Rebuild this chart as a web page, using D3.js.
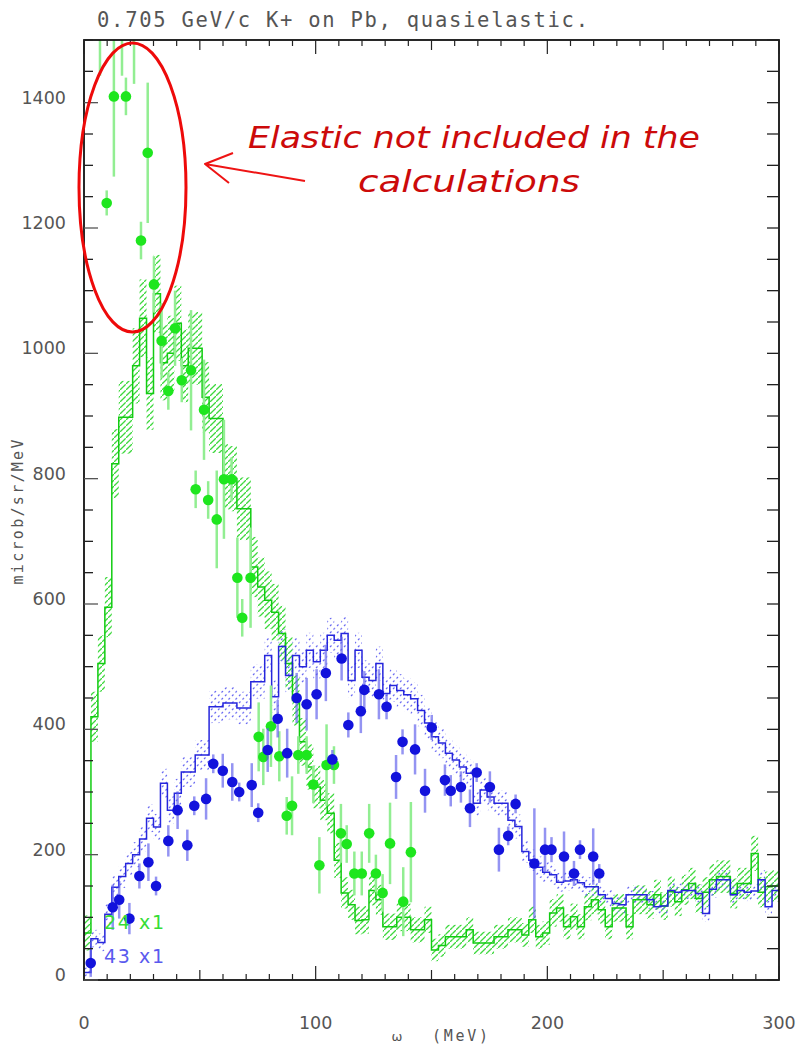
<!DOCTYPE html>
<html>
<head>
<meta charset="utf-8">
<script src="https://cdn.jsdelivr.net/npm/d3@7"></script>
<style>
  html, body { margin: 0; padding: 0; background: #fff; }
  svg { display: block; }
</style>
</head>
<body>
<svg id="chart" width="796" height="1045"></svg>
<script>
// ---------- data ----------
// calculation histograms: 3 MeV bins from 0 to 300 MeV
const binWidth = 3;
const greenCalc = [
  75, 420, 505, 595, 824, 898, 898, 980, 1056, 936,
  1095, 985, 1000, 1048, 980, 1008, 1008, 930, 896, 896,
  803, 800, 752, 752, 659, 627, 606, 587, 553, 505,
  446, 380, 340, 308, 287, 266, 191, 139, 120, 95,
  96, 143, 128, 85, 85, 100, 100, 80, 80, 96,
  48, 55, 69, 69, 69, 80, 59, 59, 59, 69,
  69, 80, 80, 72, 96, 69, 75, 107, 115, 85,
  101, 85, 117, 128, 112, 85, 115, 115, 85, 128,
  128, 120, 136, 118, 141, 125, 144, 154, 130, 140,
  160, 165, 165, 138, 154, 154, 202, 140, 149, 150
];
const greenCalcErr = [
  28, 40, 45, 48, 55, 58, 58, 60, 62, 58,
  62, 60, 60, 60, 58, 58, 58, 56, 55, 55,
  52, 52, 50, 50, 48, 47, 46, 45, 44, 42,
  40, 38, 36, 34, 32, 32, 28, 25, 24, 22,
  22, 24, 24, 21, 21, 22, 22, 20, 20, 21,
  18, 18, 19, 19, 19, 20, 18, 18, 18, 19,
  19, 20, 20, 19, 21, 19, 19, 22, 22, 20,
  21, 20, 22, 23, 22, 20, 22, 22, 20, 23,
  23, 22, 24, 22, 24, 23, 24, 25, 23, 24,
  25, 26, 26, 24, 25, 25, 28, 24, 24, 25
];
const blueCalc = [
  12, 66, 60, 105, 148, 165, 186, 200, 225, 258,
  244, 314, 271, 298, 332, 332, 359, 359, 436, 436,
  442, 442, 434, 434, 476, 476, 518, 452, 532, 486,
  518, 500, 526, 508, 526, 550, 542, 553, 478, 526,
  483, 478, 505, 457, 470, 462, 455, 449, 430, 410,
  388, 378, 362, 351, 340, 330, 282, 303, 292, 282,
  282, 255, 245, 205, 191, 180, 172, 168, 156, 158,
  160, 155, 149, 149, 136, 130, 122, 120, 136, 136,
  136, 128, 117, 118, 143, 140, 143, 143, 138, 106,
  145, 160, 160, 136, 143, 140, 142, 160, 117, 143
];
const blueCalcErr = [
  8, 14, 14, 16, 18, 18, 19, 20, 20, 22,
  21, 23, 22, 23, 24, 24, 24, 24, 26, 26,
  26, 26, 26, 26, 27, 27, 28, 26, 28, 27,
  28, 27, 28, 27, 28, 28, 28, 28, 27, 28,
  27, 27, 27, 26, 26, 26, 26, 26, 25, 25,
  24, 24, 23, 23, 22, 22, 20, 21, 21, 20,
  20, 19, 19, 18, 17, 17, 16, 16, 15, 15,
  15, 15, 15, 15, 14, 14, 14, 14, 14, 14,
  14, 14, 13, 13, 14, 14, 14, 14, 14, 13,
  14, 15, 15, 14, 14, 14, 14, 15, 13, 14
];

// measured cross sections, set 24 (green): omega [MeV], value, error
const greenOmega = [6.9, 9.8, 12.9, 16.4, 18.1, 21.6, 24.6, 27.5, 30.2, 33.5,
  36.4, 39.3, 42.2, 46.2, 48.2, 51.8, 53.6, 57.3, 60.4, 63.7,
  66.2, 68.3, 71.9, 75.4, 77.4, 80.7, 84.3, 87.5, 89.8, 92.5,
  96.1, 99.0, 101.6, 104.7, 107.9, 110.9, 113.4, 116.7, 119.9, 123.1,
  126.0, 128.9, 132.1, 137.8, 141.1];
const greenValue = [1620, 1240, 1410, 1590, 1410, 1570, 1180, 1320, 1110, 1020,
  940, 1040, 957, 973, 783, 910, 766, 735, 799, 799,
  642, 578, 642, 388, 356, 405, 357, 262, 278, 359,
  359, 312, 183, 343, 343, 234, 217, 170, 170, 234,
  170, 139, 218, 125, 204];
const greenError = [177, 20, 128, 147, 30, 140, 30, 112, 45, 60,
  30, 60, 35, 96, 30, 80, 30, 78, 95, 35,
  64, 30, 80, 55, 45, 65, 40, 30, 47, 30,
  30, 30, 45, 65, 30, 47, 30, 35, 35, 47,
  30, 30, 65, 55, 80];

// measured cross sections, set 43 (blue)
const blueOmega = [2.9, 12.4, 15.2, 19.6, 23.9, 27.8, 31.1, 36.4, 40.4, 44.6,
  47.6, 52.7, 55.8, 59.9, 64.0, 67.0, 72.4, 75.2, 79.3, 83.6,
  87.7, 91.8, 96.1, 100.4, 104.4, 107.2, 111.2, 114.1, 119.5, 121.0,
  127.3, 130.6, 134.7, 137.5, 142.9, 147.2, 150.1, 155.8, 158.3, 162.7,
  166.6, 169.5, 175.2, 179.1, 183.1, 186.3, 194.4, 199.0, 201.8, 207.2,
  211.5, 214.1, 219.8, 222.4];
const blueValue = [27, 116, 128, 98, 166, 188, 150, 222, 271, 215,
  278, 289, 345, 334, 316, 300, 311, 267, 367, 417,
  362, 450, 440, 456, 490, 352, 513, 407, 429, 463,
  456, 436, 324, 380, 368, 302, 403, 319, 302, 308,
  274, 331, 308, 208, 230, 281, 186, 208, 208, 197,
  170, 208, 197, 170];
const blueError = [22, 36, 30, 25, 20, 30, 15, 25, 30, 25,
  15, 33, 15, 27, 30, 15, 35, 15, 35, 30,
  39, 40, 42, 40, 45, 15, 35, 20, 35, 30,
  40, 20, 35, 20, 40, 35, 20, 25, 25, 25,
  30, 15, 25, 35, 15, 15, 88, 35, 20, 40,
  20, 15, 45, 15];

const xTickLabels = [0, 100, 200, 300];
const yTickLabels = [0, 200, 400, 600, 800, 1000, 1200, 1400];
const legendLabels = ["24 x1", "43 x1"];
const titleText = "0.705 GeV/c K+ on Pb, quasielastic.";
const yTitle = "microb/sr/MeV";
const noteLines = ["Elastic not included in the", "calculations"];

// ---------- layout ----------
const svg = d3.select("#chart");
const x = d3.scaleLinear().domain([0, 300]).range([84, 779]);
const y = d3.scaleLinear().domain([0, 1500]).range([980, 40]);

const defs = svg.append("defs");
defs.append("clipPath").attr("id", "plotClip")
  .append("rect").attr("x", 84).attr("y", 40).attr("width", 695).attr("height", 940);

// diagonal hatching for the green band
const hatch = defs.append("pattern").attr("id", "hatchGreen")
  .attr("patternUnits", "userSpaceOnUse").attr("width", 6).attr("height", 6);
hatch.append("path").attr("d", "M-1,7 L7,-1").attr("stroke", "#3fd83f").attr("stroke-width", 1.3);

// scattered dots for the blue band
const dots = defs.append("pattern").attr("id", "dotsBlue")
  .attr("patternUnits", "userSpaceOnUse").attr("width", 7).attr("height", 7);
dots.append("path").attr("d", "M1,3 L2.5,1.5 M4.5,6.5 L6,5").attr("stroke", "#6b6bf2").attr("stroke-width", 1.2);

const plot = svg.append("g").attr("clip-path", "url(#plotClip)");

function bins(values, errs) {
  return values.map((v, i) => ({ lo: i * binWidth, hi: (i + 1) * binWidth, v, e: errs[i] }));
}
const gBins = bins(greenCalc, greenCalcErr);
const bBins = bins(blueCalc, blueCalcErr);

function band(data, fill) {
  plot.append("g").selectAll("rect").data(data).join("rect")
    .attr("x", d => x(d.lo)).attr("width", d => x(d.hi) - x(d.lo))
    .attr("y", d => y(d.v + d.e)).attr("height", d => y(d.v - d.e) - y(d.v + d.e))
    .attr("fill", fill);
}
function stepLine(data, color) {
  const pts = [];
  data.forEach(d => { pts.push([x(d.lo), y(d.v)]); pts.push([x(d.hi), y(d.v)]); });
  plot.append("path").attr("d", d3.line()(pts))
    .attr("fill", "none").attr("stroke", color).attr("stroke-width", 1.5);
}

band(gBins, "url(#hatchGreen)");
band(bBins, "url(#dotsBlue)");
stepLine(gBins, "#12cc12");
stepLine(bBins, "#2626dc");

// measured points with error bars
function points(xs, vs, es, barColor, dotColor) {
  const data = xs.map((w, i) => ({ w, v: vs[i], e: es[i] }));
  plot.append("g").selectAll("line").data(data).join("line")
    .attr("x1", d => x(d.w)).attr("x2", d => x(d.w))
    .attr("y1", d => y(d.v - d.e)).attr("y2", d => y(d.v + d.e))
    .attr("stroke", barColor).attr("stroke-width", 2.5);
  plot.append("g").selectAll("circle").data(data).join("circle")
    .attr("cx", d => x(d.w)).attr("cy", d => y(d.v)).attr("r", 5.3)
    .attr("fill", dotColor);
}
points(greenOmega, greenValue, greenError, "#92ee92", "#1ee61e");
points(blueOmega, blueValue, blueError, "rgba(90,90,235,0.65)", "#1212dc");

// legend
svg.append("g").selectAll("text").data(legendLabels).join("text")
  .attr("x", 104).attr("y", (d, i) => 929 + i * 34)
  .attr("font-family", "DejaVu Sans").attr("font-size", 19)
  .attr("fill", (d, i) => i === 0 ? "#36dd36" : "#5a5aee")
  .attr("textLength", 60).attr("lengthAdjust", "spacing")
  .text(d => d);

// ---------- frame and ticks ----------
const frame = svg.append("g");
frame.append("rect").attr("x", 84).attr("y", 40).attr("width", 695).attr("height", 940)
  .attr("fill", "none").attr("stroke", "#111").attr("stroke-width", 1.8);

const xt = d3.range(0, 301, 10);
const xLen = v => v % 100 === 0 ? 14 : (v % 50 === 0 ? 10 : 6);
frame.append("g").selectAll("line").data(xt).join("line")
  .attr("x1", d => x(d)).attr("x2", d => x(d)).attr("y1", 980).attr("y2", d => 980 - xLen(d))
  .attr("stroke", "#222").attr("stroke-width", 1.2);
frame.append("g").selectAll("line").data(xt).join("line")
  .attr("x1", d => x(d)).attr("x2", d => x(d)).attr("y1", 40).attr("y2", d => 40 + xLen(d))
  .attr("stroke", "#222").attr("stroke-width", 1.2);

const yt = d3.range(0, 1501, 50);
const yLen = v => v % 200 === 0 ? 14 : 9;
frame.append("g").selectAll("line").data(yt).join("line")
  .attr("x1", 84).attr("x2", d => 84 + yLen(d)).attr("y1", d => y(d)).attr("y2", d => y(d))
  .attr("stroke", d => d % 200 === 0 ? "#555" : "#222").attr("stroke-width", 1.3);
frame.append("g").selectAll("line").data(yt).join("line")
  .attr("x1", 779).attr("x2", 767).attr("y1", d => y(d)).attr("y2", d => y(d))
  .attr("stroke", "#222").attr("stroke-width", 1.3);

// tick labels
svg.append("g").selectAll("text").data(yTickLabels).join("text")
  .attr("x", 66).attr("y", d => y(d) + 1)
  .attr("text-anchor", "end")
  .attr("font-family", "DejaVu Sans").attr("font-size", 17.5).attr("fill", "#555")
  .text(d => d);
svg.append("g").selectAll("text").data(xTickLabels).join("text")
  .attr("x", d => x(d)).attr("y", 1029)
  .attr("text-anchor", "middle")
  .attr("font-family", "DejaVu Sans").attr("font-size", 17.5).attr("fill", "#555")
  .text(d => d);

// titles
svg.append("text").attr("x", 97).attr("y", 26.5)
  .attr("font-family", "DejaVu Sans Mono").attr("font-size", 20.5).attr("fill", "#555")
  .attr("textLength", 491).attr("lengthAdjust", "spacing")
  .text(titleText);
svg.append("text").attr("transform", "translate(23,512) rotate(-90)")
  .attr("text-anchor", "middle")
  .attr("font-family", "DejaVu Sans Mono").attr("font-size", 15).attr("fill", "#555")
  .attr("textLength", 145).attr("lengthAdjust", "spacing")
  .text(yTitle);
svg.append("text").attr("x", 397).attr("y", 1041)
  .attr("text-anchor", "middle")
  .attr("font-family", "DejaVu Sans").attr("font-size", 13).attr("fill", "#555")
  .text("ω");
svg.append("text").attr("x", 432).attr("y", 1041)
  .attr("font-family", "DejaVu Sans Mono").attr("font-size", 15).attr("fill", "#555")
  .attr("textLength", 56).attr("lengthAdjust", "spacing")
  .text("(MeV)");

// ---------- note on the elastic peak ----------
const note = svg.append("g");
note.append("ellipse").attr("cx", 132.5).attr("cy", 187.5).attr("rx", 53.5).attr("ry", 144.5)
  .attr("fill", "none").attr("stroke", "#ee0a0a").attr("stroke-width", 3);
note.append("path").attr("d", "M305,181 L205,164 M233,153 L205,164 L229,183")
  .attr("fill", "none").attr("stroke", "#ee1414").attr("stroke-width", 2)
  .attr("stroke-linejoin", "round");
note.append("text").attr("x", 248).attr("y", 148)
  .attr("font-family", "DejaVu Sans").attr("font-style", "italic").attr("font-size", 31)
  .attr("fill", "#cc0a0a").attr("textLength", 452).attr("lengthAdjust", "spacingAndGlyphs")
  .text(noteLines[0]);
note.append("text").attr("x", 358).attr("y", 192)
  .attr("font-family", "DejaVu Sans").attr("font-style", "italic").attr("font-size", 31)
  .attr("fill", "#cc0a0a").attr("textLength", 222).attr("lengthAdjust", "spacingAndGlyphs")
  .text(noteLines[1]);
</script>
</body>
</html>
